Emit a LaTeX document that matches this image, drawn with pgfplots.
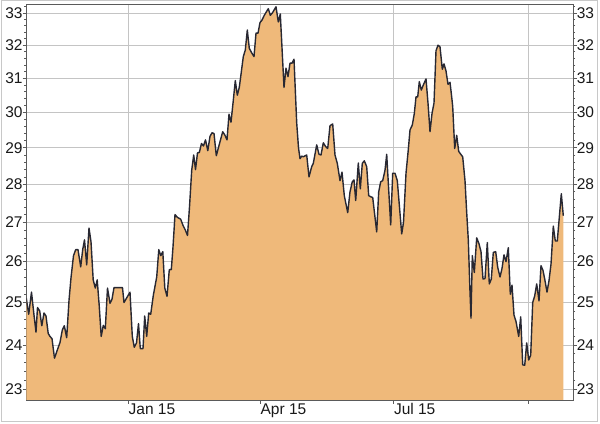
\documentclass[border=0pt]{standalone}
\usepackage{pgfplots}
\pgfplotsset{compat=1.18}
\usepackage{pgfplotstable}
\usepackage{fontspec}
\setmainfont{Liberation Sans}
\definecolor{areafill}{RGB}{239,185,122}
\definecolor{linecol}{RGB}{40,40,50}
\definecolor{gridgray}{RGB}{196,196,196}
\definecolor{framegray}{RGB}{90,90,90}
\definecolor{bordergray}{RGB}{200,200,200}
\definecolor{labelcol}{RGB}{25,25,25}
\pgfplotstableread{
x y
26.3 25.1
28.7 24.72
31.5 25.25
34 24.7
36 24.3
37.5 24.88
39.7 24.8
41.8 24.45
44 24.75
46 24.68
48.2 24.27
50 24.2
52 24.15
54.5 23.7
57.5 23.9
60 24.06
62.3 24.35
64.3 24.45
66.7 24.17
69 25.05
71 25.6
73.5 26.15
75.7 26.3
78 26.3
80.7 25.87
82.7 26.3
84.5 26.55
86.7 25.92
89 26.85
91 26.5
93.2 25.55
95.3 25.35
97.2 25.55
99.2 24.93
101.2 24.2
103.3 24.46
105.3 24.38
107.5 25.35
110 24.98
112 25.08
114 25.36
122.5 25.36
124 25.0
130 25.25
132.3 24.2
134.3 23.95
136.5 24.05
138.5 24.5
140.3 23.92
143 23.92
144.7 24.68
146.7 24.2
148.7 24.75
150.7 24.72
153.3 25.17
156.7 25.62
158.8 26.3
160.8 26.15
162.8 26.25
164.8 25.35
167 25.15
169.3 25.8
171.3 25.8
173 26.37
175 27.2
177.3 27.13
180.7 27.08
183 26.92
185.3 26.8
187.5 26.66
189.5 27.4
191.7 28.38
193.7 28.8
195.5 28.4
197.5 28.86
199.3 28.87
201.5 29.12
203.5 29.05
205.5 29.22
207.8 28.92
210 29.32
212 29.42
214 29.4
216.3 28.78
218.7 29.03
222.7 29.45
225 29.35
227 29.22
229 29.95
231 29.72
233.3 30.35
235.3 30.93
237.3 30.5
239.3 30.73
243.3 31.65
245.3 31.85
247.3 32.47
249.3 31.9
252 31.75
254 31.65
256 32.37
258 32.37
260 32.7
262 32.78
264.3 32.93
268.3 33.14
270.3 32.93
272.3 33.0
276 33.2
278.3 32.72
280.3 32.97
284 30.73
286 31.3
288 31.05
290 31.45
292 31.45
294 31.57
296.7 29.7
298.5 29.0
300 28.7
301.7 28.77
303.3 28.75
306.7 28.8
309 28.2
311.7 28.48
313.3 28.57
316.7 29.08
319 28.82
321 28.8
323.3 29.14
325.7 29.03
327.7 28.98
330 29.62
332.7 29.67
335 28.8
337.3 28.57
340 28.1
342 28.33
344.3 27.7
347.7 27.25
350 27.8
352.3 28.07
354 28.12
355.7 27.57
358.3 28.58
360.3 27.88
362.3 28.57
364.3 28.64
366.7 28.48
368.7 27.7
370.7 27.67
372.7 27.65
376.7 26.75
378.7 27.8
380.7 28.07
382.7 28.1
385 28.38
386.7 28.82
388.7 27.85
390.7 26.93
392.7 28.3
395 28.3
397.3 28.1
401.7 26.7
403.5 27.0
406 28.3
408.3 28.95
410 29.5
412.3 29.64
414.3 29.97
416 30.45
417.7 30.45
419.3 30.9
421.3 30.65
423.3 30.8
426 30.98
428 30.27
430 29.45
432 29.97
434 30.27
436 31.83
438 32.0
440 31.95
442.3 31.27
444 31.43
446 31.22
448 30.82
450 30.88
451.7 30.45
452.7 30.17
454.7 28.98
456.7 29.35
458.7 28.9
461.3 28.8
462.7 28.75
465 28.1
466.7 27.25
468.3 26.55
470 25.25
471 24.63
472.3 26.15
474.3 25.73
476.7 26.6
479 26.45
481 26.25
483 25.57
485 25.58
487.3 26.48
489.3 25.45
491.3 25.57
493.3 26.23
495.7 26.25
497.7 25.86
500 25.62
502 25.83
504 26.17
506 26.0
508.3 26.35
510.3 25.2
512 25.42
514 24.7
516 24.55
518.7 24.2
520.7 24.66
522.7 23.55
524.7 23.54
526.7 24.05
528.7 23.66
530.7 23.77
532.7 25.0
534.7 25.16
536.7 25.45
539 25.04
541 25.9
543 25.78
545 25.53
547 25.25
549 25.53
551 25.94
553.3 26.9
555.3 26.52
557.3 26.52
559.3 27.13
561.3 27.75
563.3 27.17
}\datatable
\begin{document}
\begin{tikzpicture}
\path[use as bounding box] (0,0) rectangle (600bp,424bp);
\draw[bordergray, line width=1bp] (1.5bp,2.3bp) rectangle (597bp,423bp);
\begin{axis}[
  ymode=log,
  at={(26.3bp,24bp)}, anchor=south west,
  scale only axis, width=546.7bp, height=396bp,
  xmin=26.3, xmax=573, ymin=22.77, ymax=33.29,
  ytick={23,24,25,26,27,28,29,30,31,32,33},
  yticklabels={23,24,25,26,27,28,29,30,31,32,33},
  minor ytick={23.2,23.4,23.6,23.8,24.2,24.4,24.6,24.8,25.2,25.4,25.6,25.8,26.2,26.4,26.6,26.8,27.2,27.4,27.6,27.8,28.2,28.4,28.6,28.8,29.2,29.4,29.6,29.8,30.2,30.4,30.6,30.8,31.2,31.4,31.6,31.8,32.2,32.4,32.6,32.8,33.2},
  tick align=outside,
  major tick length=3.6bp, minor tick length=2bp,
  axis line style={framegray, line width=0.9bp},
  tick style={framegray, line width=0.7bp},
  tick label style={font=\fontsize{15.5bp}{18bp}\selectfont, text=labelcol},
  xtick={128.5,260.4,393.8,528.7},
  xticklabels={Jan 15,Apr 15,Jul 15,{}},
  xtick pos=left, ytick pos=left,
  grid=major, grid style={gridgray, line width=0.8bp},
  xticklabel style={anchor=north west, inner sep=0pt},
  yticklabel style={anchor=east, inner sep=0pt},
]
\addplot[fill=areafill, draw=none] table {\datatable} \closedcycle;
\addplot[linecol, line width=1.4bp, line join=round] table {\datatable};
\end{axis}
\begin{axis}[
  ymode=log,
  at={(26.3bp,24bp)}, anchor=south west,
  scale only axis, width=546.7bp, height=396bp,
  xmin=26.3, xmax=573, ymin=22.77, ymax=33.29,
  ytick={23,24,25,26,27,28,29,30,31,32,33},
  yticklabels={23,24,25,26,27,28,29,30,31,32,33},
  minor ytick={23.2,23.4,23.6,23.8,24.2,24.4,24.6,24.8,25.2,25.4,25.6,25.8,26.2,26.4,26.6,26.8,27.2,27.4,27.6,27.8,28.2,28.4,28.6,28.8,29.2,29.4,29.6,29.8,30.2,30.4,30.6,30.8,31.2,31.4,31.6,31.8,32.2,32.4,32.6,32.8,33.2},
  tick align=outside,
  major tick length=3.6bp, minor tick length=2bp,
  axis line style={framegray, line width=0.9bp},
  tick style={framegray, line width=0.7bp},
  tick label style={font=\fontsize{15.5bp}{18bp}\selectfont, text=labelcol},
  hide x axis, axis y line*=right,
  yticklabel style={anchor=west, inner sep=0pt},
]
\addplot[draw=none] table {\datatable};
\end{axis}
\end{tikzpicture}
\end{document}
